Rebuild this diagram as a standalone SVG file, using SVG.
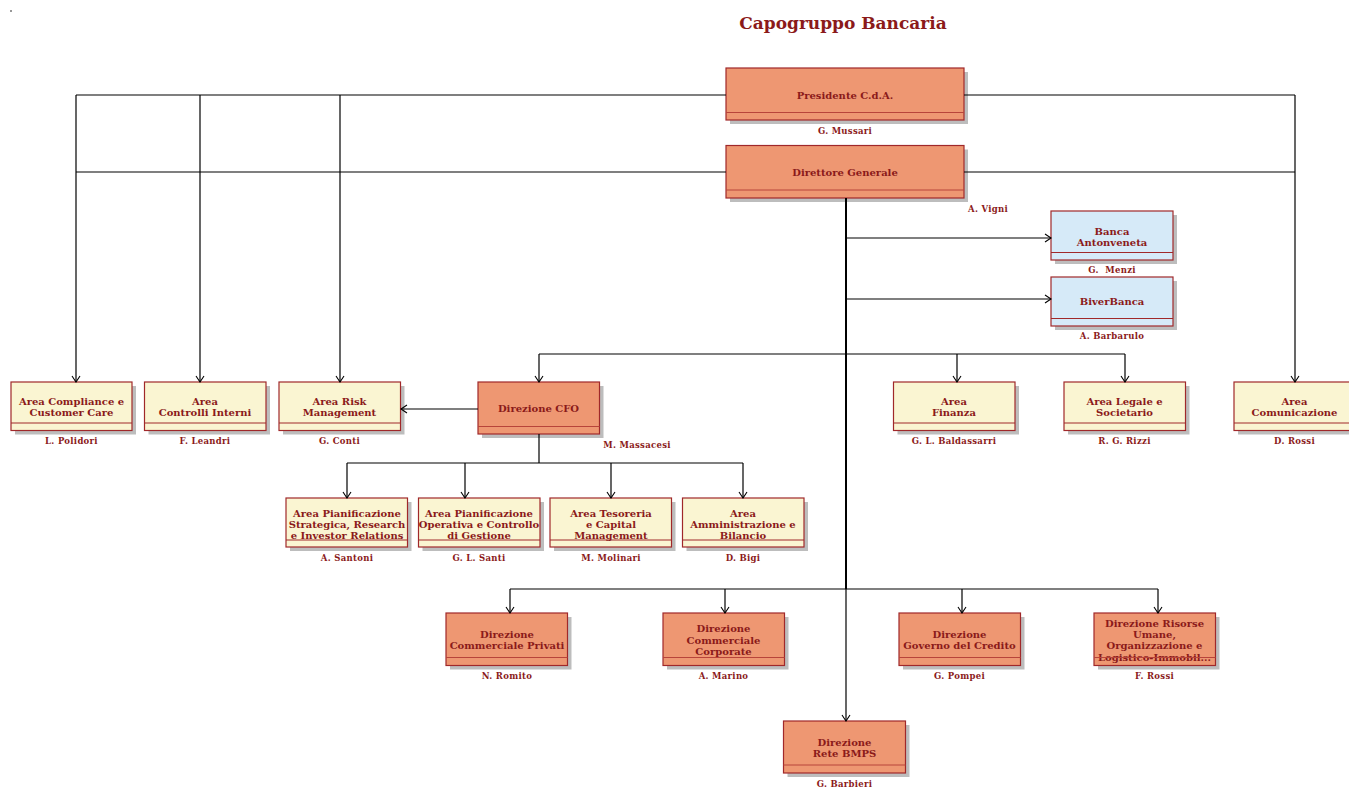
<svg xmlns="http://www.w3.org/2000/svg" width="1349" height="787" viewBox="0 0 1349 787">
<defs>
<marker id="arr" markerUnits="userSpaceOnUse" markerWidth="12" markerHeight="12" refX="7" refY="5" orient="auto">
<path d="M1,1 L7,5 L1,9" fill="none" stroke="#000" stroke-width="1.1"/>
</marker>
</defs>
<style>
text{font-family:"DejaVu Serif","Liberation Serif",serif;font-weight:bold;fill:#8B1A1A;text-anchor:middle}
.t{font-size:10px}
.n{font-size:8.5px;letter-spacing:0.3px}
.title{font-size:17px}
.sh{fill:#bdbdbd}
.or{fill:#EE9772;stroke:#A0282A;stroke-width:1.2}
.ye{fill:#FAF5D2;stroke:#A0282A;stroke-width:1.2}
.bl{fill:#D6EAF8;stroke:#A0282A;stroke-width:1.2}
.dv{stroke:#B8443A;stroke-width:1}
.dvy{stroke:#A0282A;stroke-width:1}
.c{fill:none;stroke:#000;stroke-width:1.2}
.thick{stroke-width:2}
.ca{fill:none;stroke:#000;stroke-width:1.2;marker-end:url(#arr)}
</style>
<rect width="1349" height="787" fill="#fff"/>
<rect x="10.5" y="10" width="1" height="2" fill="#333"/>
<text class="title" x="843" y="29">Capogruppo Bancaria</text>

<g id="presidente">
<rect class="sh" x="730" y="72" width="238" height="52"/>
<rect class="or" x="726" y="68" width="238" height="52"/>
<line class="dv" x1="726" y1="112.5" x2="964" y2="112.5"/>
<text class="t" x="845" y="98.5">Presidente C.d.A.</text>
<text class="n" x="845" y="134">G. Mussari</text>
</g>

<g id="direttore">
<rect class="sh" x="730" y="149.5" width="238" height="52.5"/>
<rect class="or" x="726" y="145.5" width="238" height="52.5"/>
<line class="dv" x1="726" y1="190" x2="964" y2="190"/>
<text class="t" x="845" y="175.5">Direttore Generale</text>
<text class="n" x="988" y="212">A. Vigni</text>
</g>

<g id="antonveneta">
<rect class="sh" x="1055" y="215" width="122" height="49"/>
<rect class="bl" x="1051" y="211" width="122" height="49"/>
<line class="dvy" x1="1051" y1="252.5" x2="1173" y2="252.5"/>
<text class="t" x="1112" y="234.5">Banca</text>
<text class="t" x="1112" y="245.5">Antonveneta</text>
<text class="n" x="1112" y="273" xml:space="preserve">G.  Menzi</text>
</g>

<g id="biverbanca">
<rect class="sh" x="1055" y="281" width="122" height="49"/>
<rect class="bl" x="1051" y="277" width="122" height="49"/>
<line class="dvy" x1="1051" y1="318.5" x2="1173" y2="318.5"/>
<text class="t" x="1112" y="304.5">BiverBanca</text>
<text class="n" x="1112" y="339">A. Barbarulo</text>
</g>

<g id="compliance">
<rect class="sh" x="15" y="386" width="121" height="48.5"/>
<rect class="ye" x="11" y="382" width="121" height="48.5"/>
<line class="dvy" x1="11" y1="423" x2="132" y2="423"/>
<text class="t" x="71.5" y="404.5">Area Compliance e</text>
<text class="t" x="71.5" y="416">Customer Care</text>
<text class="n" x="71.5" y="444">L. Polidori</text>
</g>

<g id="controlli">
<rect class="sh" x="148.5" y="386" width="121.5" height="48.5"/>
<rect class="ye" x="144.5" y="382" width="121.5" height="48.5"/>
<line class="dvy" x1="144.5" y1="423" x2="266" y2="423"/>
<text class="t" x="205" y="404.5">Area</text>
<text class="t" x="205" y="416">Controlli Interni</text>
<text class="n" x="205" y="444">F. Leandri</text>
</g>

<g id="risk">
<rect class="sh" x="283" y="386" width="121.5" height="48.5"/>
<rect class="ye" x="279" y="382" width="121.5" height="48.5"/>
<line class="dvy" x1="279" y1="423" x2="400.5" y2="423"/>
<text class="t" x="339.5" y="404.5">Area Risk</text>
<text class="t" x="339.5" y="416">Management</text>
<text class="n" x="339.5" y="444">G. Conti</text>
</g>

<g id="cfo">
<rect class="sh" x="482" y="386" width="121.5" height="52"/>
<rect class="or" x="478" y="382" width="121.5" height="52"/>
<line class="dv" x1="478" y1="426.5" x2="599.5" y2="426.5"/>
<text class="t" x="538.5" y="412">Direzione CFO</text>
<text class="n" x="637" y="448">M. Massacesi</text>
</g>

<g id="finanza">
<rect class="sh" x="897.5" y="386" width="121.5" height="48.5"/>
<rect class="ye" x="893.5" y="382" width="121.5" height="48.5"/>
<line class="dvy" x1="893.5" y1="423" x2="1015" y2="423"/>
<text class="t" x="954" y="404.5">Area</text>
<text class="t" x="954" y="416">Finanza</text>
<text class="n" x="954" y="444">G. L. Baldassarri</text>
</g>

<g id="legale">
<rect class="sh" x="1068" y="386" width="121.5" height="48.5"/>
<rect class="ye" x="1064" y="382" width="121.5" height="48.5"/>
<line class="dvy" x1="1064" y1="423" x2="1185.5" y2="423"/>
<text class="t" x="1124.5" y="404.5">Area Legale e</text>
<text class="t" x="1124.5" y="416">Societario</text>
<text class="n" x="1124.5" y="444">R. G. Rizzi</text>
</g>

<g id="comunicazione">
<rect class="sh" x="1238" y="386" width="121.5" height="48.5"/>
<rect class="ye" x="1234" y="382" width="121.5" height="48.5"/>
<line class="dvy" x1="1234" y1="423" x2="1355.5" y2="423"/>
<text class="t" x="1294.5" y="404.5">Area</text>
<text class="t" x="1294.5" y="416">Comunicazione</text>
<text class="n" x="1294.5" y="444">D. Rossi</text>
</g>

<g id="pianificazione-strategica">
<rect class="sh" x="290" y="502" width="121.5" height="49"/>
<rect class="ye" x="286" y="498" width="121.5" height="49"/>
<line class="dvy" x1="286" y1="540" x2="407.5" y2="540"/>
<text class="t" x="347" y="516.5">Area Pianificazione</text>
<text class="t" x="347" y="527.5">Strategica, Research</text>
<text class="t" x="347" y="538.5">e Investor Relations</text>
<text class="n" x="347" y="561">A. Santoni</text>
</g>

<g id="pianificazione-operativa">
<rect class="sh" x="422.5" y="502" width="121.5" height="49"/>
<rect class="ye" x="418.5" y="498" width="121.5" height="49"/>
<line class="dvy" x1="418.5" y1="540" x2="540" y2="540"/>
<text class="t" x="479" y="516.5">Area Pianificazione</text>
<text class="t" x="479" y="527.5">Operativa e Controllo</text>
<text class="t" x="479" y="538.5">di Gestione</text>
<text class="n" x="479" y="561">G. L. Santi</text>
</g>

<g id="tesoreria">
<rect class="sh" x="554" y="502" width="121.5" height="49"/>
<rect class="ye" x="550" y="498" width="121.5" height="49"/>
<line class="dvy" x1="550" y1="540" x2="671.5" y2="540"/>
<text class="t" x="611" y="516.5">Area Tesoreria</text>
<text class="t" x="611" y="527.5">e Capital</text>
<text class="t" x="611" y="538.5">Management</text>
<text class="n" x="611" y="561">M. Molinari</text>
</g>

<g id="amministrazione">
<rect class="sh" x="686.5" y="502" width="121.5" height="49"/>
<rect class="ye" x="682.5" y="498" width="121.5" height="49"/>
<line class="dvy" x1="682.5" y1="540" x2="804" y2="540"/>
<text class="t" x="743" y="516.5">Area</text>
<text class="t" x="743" y="527.5">Amministrazione e</text>
<text class="t" x="743" y="538.5">Bilancio</text>
<text class="n" x="743" y="561">D. Bigi</text>
</g>

<g id="commerciale-privati">
<rect class="sh" x="450" y="617" width="121.5" height="52.5"/>
<rect class="or" x="446" y="613" width="121.5" height="52.5"/>
<line class="dv" x1="446" y1="657.5" x2="567.5" y2="657.5"/>
<text class="t" x="507" y="638">Direzione</text>
<text class="t" x="507" y="649">Commerciale Privati</text>
<text class="n" x="507" y="679">N. Romito</text>
</g>

<g id="commerciale-corporate">
<rect class="sh" x="667" y="617" width="121.5" height="52.5"/>
<rect class="or" x="663" y="613" width="121.5" height="52.5"/>
<line class="dv" x1="663" y1="657.5" x2="784.5" y2="657.5"/>
<text class="t" x="723.5" y="632">Direzione</text>
<text class="t" x="723.5" y="643.5">Commerciale</text>
<text class="t" x="723.5" y="655">Corporate</text>
<text class="n" x="723.5" y="679">A. Marino</text>
</g>

<g id="governo-credito">
<rect class="sh" x="903" y="617" width="121.5" height="52.5"/>
<rect class="or" x="899" y="613" width="121.5" height="52.5"/>
<line class="dv" x1="899" y1="657.5" x2="1020.5" y2="657.5"/>
<text class="t" x="959.5" y="638">Direzione</text>
<text class="t" x="959.5" y="649">Governo del Credito</text>
<text class="n" x="959.5" y="679">G. Pompei</text>
</g>

<g id="risorse-umane">
<rect class="sh" x="1098" y="617" width="121.5" height="52.5"/>
<rect class="or" x="1094" y="613" width="121.5" height="52.5"/>
<text class="t" x="1154.5" y="627">Direzione Risorse</text>
<text class="t" x="1154.5" y="638">Umane,</text>
<text class="t" x="1154.5" y="649">Organizzazione e</text>
<text class="t" x="1154.5" y="660.5">Logistico-Immobil...</text>
<line class="dv" x1="1094" y1="657.5" x2="1215.5" y2="657.5"/>
<text class="n" x="1154.5" y="679">F. Rossi</text>
</g>

<g id="rete-bmps">
<rect class="sh" x="787.5" y="725" width="122" height="52"/>
<rect class="or" x="783.5" y="721" width="122" height="52"/>
<line class="dv" x1="783.5" y1="765" x2="905.5" y2="765"/>
<text class="t" x="844.5" y="746">Direzione</text>
<text class="t" x="844.5" y="757">Rete BMPS</text>
<text class="n" x="844.5" y="787">G. Barbieri</text>
</g>

<g id="connectors">
<path class="c" d="M726,95 H76 M726,172 H76 M964,95 H1295 M964,172 H1295"/>
<path class="ca" d="M76,95 V382"/>
<path class="ca" d="M200,95 V382"/>
<path class="ca" d="M340,95 V382"/>
<path class="ca" d="M1295,95 V382"/>
<path class="c thick" d="M846,198 V589"/>
<path class="ca" d="M846,589 V721"/>
<path class="ca" d="M846,238 H1051"/>
<path class="ca" d="M846,299 H1051"/>
<path class="c" d="M539,354 H1125"/>
<path class="ca" d="M539,354 V382"/>
<path class="ca" d="M957,354 V382"/>
<path class="ca" d="M1125,354 V382"/>
<path class="ca" d="M478,409 H401"/>
<path class="c" d="M539,434 V463 M347,463 H743"/>
<path class="ca" d="M347,463 V498"/>
<path class="ca" d="M465,463 V498"/>
<path class="ca" d="M611,463 V498"/>
<path class="ca" d="M743,463 V498"/>
<path class="c" d="M510,589 H1158"/>
<path class="ca" d="M510,589 V613"/>
<path class="ca" d="M725,589 V613"/>
<path class="ca" d="M962,589 V613"/>
<path class="ca" d="M1158,589 V613"/>
</g>
</svg>
